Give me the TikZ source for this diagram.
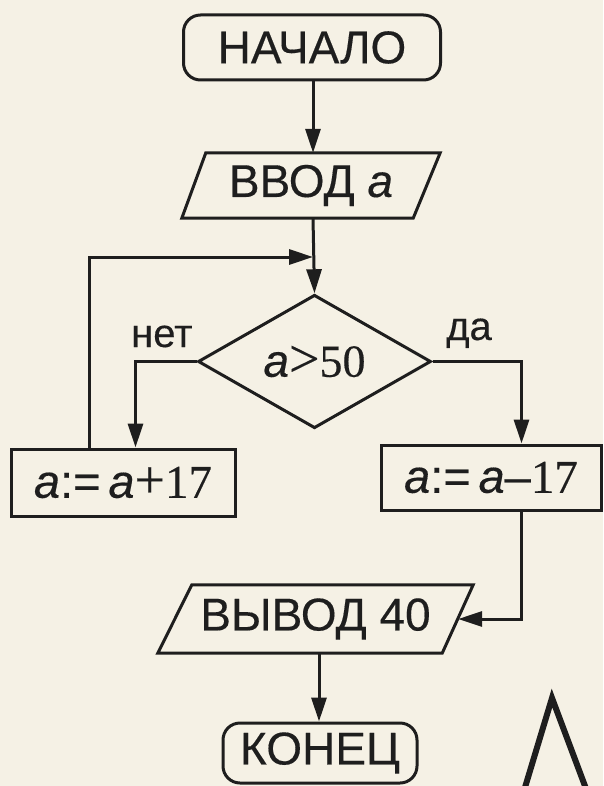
\documentclass[tikz,border=0pt]{standalone}
\usepackage{fontspec}
\setmainfont{Liberation Sans}[FakeBold=0.3]
\newfontfamily\serifd{Liberation Serif}[FakeBold=0.3]
\usetikzlibrary{shapes.geometric,arrows.meta}
\definecolor{paper}{RGB}{245,241,229}
\definecolor{ink}{RGB}{30,30,30}
\newcommand{\bigop}[1]{{\serifd\fontsize{54}{56}\selectfont #1}}
\begin{document}
\begin{tikzpicture}[x=1pt,y=-1pt,
  base/.style={draw=ink, line width=3pt, text=ink, inner sep=0pt, font=\fontsize{46}{48}\selectfont},
  term/.style={base, rectangle, rounded corners=17pt},
  io/.style={text=ink, inner sep=0pt, rectangle, font=\fontsize{46}{48}\selectfont},
  iobox/.style={draw=ink, line width=3pt, line join=miter},
  proc/.style={base, rectangle, font=\fontsize{47}{49}\selectfont},
  dec/.style={base, diamond, minimum width=233pt, minimum height=103pt, font=\fontsize{46}{48}\selectfont},
  lbl/.style={text=ink, inner sep=0pt, font=\fontsize{40}{42}\selectfont},
  conn/.style={draw=ink, line width=3pt},
  arr/.style={conn, -{Triangle[length=24pt,width=15pt]}}]
\useasboundingbox[fill=paper] (0,0) rectangle (603,786);

\node[term, minimum width=257pt, minimum height=65pt] (start) at (312,47.5) {НАЧАЛО};
\node[io, minimum width=258pt, minimum height=65pt] (input) at (311,185.5) {ВВОД \textit{a}};
\draw[iobox] ([xshift=24pt]input.north west) -- (input.north east)
  -- ([xshift=-27pt]input.south east) -- (input.south west) -- cycle;
\node[dec] (cond) at (314.5,361.5) {\textit{a}\bigop{>}{\serifd 50}};
\node[proc, minimum width=224pt, minimum height=67pt] (left) at (123,482.5) {\textit{a}:=\,\textit{a}\bigop{+}{\serifd 17}};
\node[proc, minimum width=220pt, minimum height=65pt] (right) at (491,477.5) {\textit{a}:=\,\textit{a}–{\serifd 17}};
\node[io, minimum width=315pt, minimum height=68pt] (output) at (315.5,619) {ВЫВОД 40};
\draw[iobox] ([xshift=34pt]output.north west) -- (output.north east)
  -- ([xshift=-31pt]output.south east) -- (output.south west) -- cycle;
\coordinate (outin) at ([xshift=-15pt]output.east);
\node[term, minimum width=194pt, minimum height=60pt] (end) at (320,753) {КОНЕЦ};

\node[lbl, anchor=base west] (no) at (131,347) {нет};
\node[lbl, anchor=base west] (yes) at (446,340) {да};

\coordinate (join) at (313,257);
\coordinate (loopfrom) at ([xshift=80pt]left.north west);
\coordinate (leftin) at ([xshift=126pt]left.north west);
\coordinate (rightin) at ([xshift=142pt]right.north west);
\coordinate (rightout) at ([xshift=142pt]right.south west);

\draw[arr] (start.south -| join) -- (input.north -| join);
\draw[arr] (input.south -| join) -- (cond.north);
\draw[arr] (loopfrom) |- (join);
\draw[arr] (cond.west) -| (leftin);
\draw[arr] (cond.east) -| (rightin);
\draw[arr] (rightout) |- (outin);
\draw[arr] (output.south -| 319,0) -- (end.north -| 319,0);

\draw[ink, line width=6pt, line join=miter] (523,794) -- (552,698) -- (588,794);
\end{tikzpicture}
\end{document}
